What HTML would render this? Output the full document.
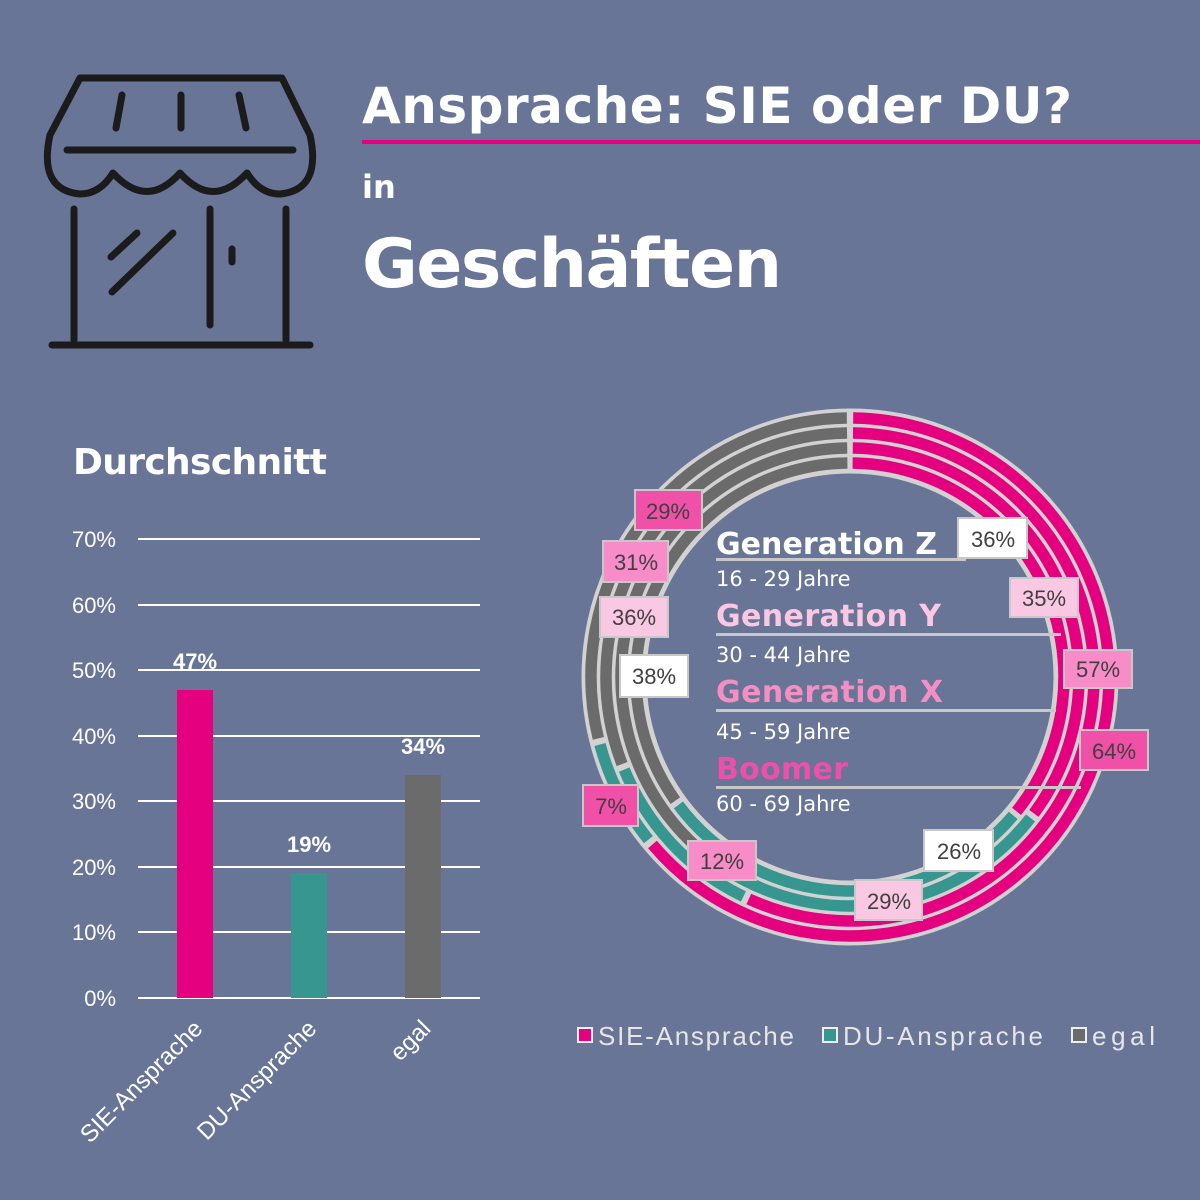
<!DOCTYPE html>
<html><head><meta charset="utf-8"><style>
body{margin:0;width:1200px;height:1200px;background:#687596;overflow:hidden;font-family:"Liberation Sans","DejaVu Sans",sans-serif}
svg{position:absolute;left:0;top:0}
</style></head><body>
<svg width="1200" height="1200" viewBox="0 0 1200 1200" xmlns="http://www.w3.org/2000/svg">
<g fill="none" stroke="#1b1b1b" stroke-width="7" stroke-linecap="round" stroke-linejoin="round">
<path d="M80,78 L282,78 L310,135 Q322,190 280,194 Q260,194 247,173 Q213,210 180,173 Q147,210 113,173 Q100,194 80,194 Q38,190 50,135 Z"/>
<line x1="67" y1="150" x2="293" y2="150"/>
<line x1="122" y1="95" x2="116" y2="128"/><line x1="181" y1="95" x2="181" y2="128"/><line x1="239" y1="95" x2="246" y2="128"/>
<line x1="74" y1="209" x2="74" y2="340"/><line x1="286" y1="209" x2="286" y2="340"/><line x1="210" y1="209" x2="210" y2="325"/>
<line x1="232" y1="249" x2="232" y2="262"/>
<line x1="111" y1="257" x2="137" y2="233"/><line x1="112" y1="292" x2="173" y2="233"/>
<line x1="52" y1="345" x2="310" y2="345"/>
</g>
<text x="362" y="123" font-family="DejaVu Sans" font-weight="bold" font-size="50" fill="#fff" textLength="710">Ansprache: SIE oder DU?</text>
<rect x="362" y="140" width="838" height="4" fill="#e4007f"/>
<text x="362" y="198" font-family="DejaVu Sans" font-weight="bold" font-size="32" fill="#fff">in</text>
<text x="362" y="287" font-family="DejaVu Sans" font-weight="bold" font-size="68" fill="#fff" textLength="420">Geschäften</text>
<text x="73" y="474" font-family="DejaVu Sans" font-weight="bold" font-size="36" fill="#fff" textLength="254">Durchschnitt</text>
<g stroke="#fff" stroke-width="2">
<line x1="138" y1="539" x2="480" y2="539"/><line x1="138" y1="605" x2="480" y2="605"/><line x1="138" y1="670" x2="480" y2="670"/><line x1="138" y1="736" x2="480" y2="736"/><line x1="138" y1="801" x2="480" y2="801"/><line x1="138" y1="867" x2="480" y2="867"/><line x1="138" y1="932" x2="480" y2="932"/><line x1="138" y1="998" x2="480" y2="998"/>
</g>
<g font-size="22" fill="#fff" text-anchor="end">
<text x="116" y="547">70%</text><text x="116" y="613">60%</text><text x="116" y="678">50%</text><text x="116" y="744">40%</text><text x="116" y="809">30%</text><text x="116" y="875">20%</text><text x="116" y="940">10%</text><text x="116" y="1006">0%</text>
</g>
<rect x="177" y="690" width="36" height="308" fill="#e4007f"/>
<rect x="291" y="873" width="36" height="125" fill="#379790"/>
<rect x="405" y="775" width="36" height="223" fill="#6b6b6b"/>
<g font-size="22" font-weight="bold" fill="#fff" text-anchor="middle">
<text x="195" y="669">47%</text><text x="309" y="852">19%</text><text x="423" y="754">34%</text>
</g>
<g font-size="24" fill="#fff" text-anchor="end">
<text transform="translate(204,1030) rotate(-45)">SIE-Ansprache</text>
<text transform="translate(318,1030) rotate(-45)">DU-Ansprache</text>
<text transform="translate(432,1030) rotate(-45)">egal</text>
</g>
<circle cx="850" cy="677" r="236" fill="none" stroke="#d2d2d2" stroke-width="65"/>
<g id="rings" fill="none" stroke-width="11.5"></g>
<g font-family="DejaVu Sans">
<text x="716" y="554" font-weight="bold" font-size="30" fill="#fff" textLength="221">Generation Z</text>
<rect x="716" y="558" width="250" height="3" fill="#c8c8c8"/>
<text x="716" y="586" font-size="21" fill="#fff">16 - 29 Jahre</text>
<text x="716" y="626" font-weight="bold" font-size="30" fill="#fbc8e4" textLength="225">Generation Y</text>
<rect x="716" y="633" width="345" height="3" fill="#c8c8c8"/>
<text x="716" y="662" font-size="21" fill="#fff">30 - 44 Jahre</text>
<text x="716" y="702" font-weight="bold" font-size="30" fill="#f48fc4" textLength="227">Generation X</text>
<rect x="716" y="709" width="340" height="3" fill="#c8c8c8"/>
<text x="716" y="739" font-size="21" fill="#fff">45 - 59 Jahre</text>
<text x="716" y="779" font-weight="bold" font-size="30" fill="#ee4fa9" textLength="132">Boomer</text>
<rect x="716" y="786" width="365" height="3" fill="#c8c8c8"/>
<text x="716" y="811" font-size="21" fill="#fff">60 - 69 Jahre</text>
</g>
<g stroke="#c8c8c8" stroke-width="2" font-size="22" fill="#404040" text-anchor="middle">
<rect x="635" y="490" width="67" height="40" fill="#f050a8"/><text x="668" y="519" stroke="none">29%</text>
<rect x="603" y="541" width="65" height="41" fill="#f78cc8"/><text x="636" y="570" stroke="none">31%</text>
<rect x="600" y="597" width="68" height="40" fill="#fbc8e4"/><text x="634" y="625" stroke="none">36%</text>
<rect x="620" y="655" width="68" height="42" fill="#fff"/><text x="654" y="684" stroke="none">38%</text>
<rect x="958" y="518" width="69" height="40" fill="#fff"/><text x="993" y="547" stroke="none">36%</text>
<rect x="1010" y="578" width="68" height="39" fill="#fbc8e4"/><text x="1044" y="606" stroke="none">35%</text>
<rect x="1064" y="650" width="68" height="38" fill="#f78cc8"/><text x="1098" y="677" stroke="none">57%</text>
<rect x="1080" y="730" width="68" height="40" fill="#f050a8"/><text x="1114" y="759" stroke="none">64%</text>
<rect x="583" y="785" width="55" height="41" fill="#f050a8"/><text x="611" y="814" stroke="none">7%</text>
<rect x="688" y="841" width="68" height="39" fill="#f78cc8"/><text x="722" y="869" stroke="none">12%</text>
<rect x="924" y="830" width="69" height="41" fill="#fff"/><text x="959" y="859" stroke="none">26%</text>
<rect x="855" y="880" width="67" height="40" fill="#fbc8e4"/><text x="889" y="909" stroke="none">29%</text>
</g>
<g font-size="26" fill="#e6e6e6">
<rect x="578" y="1028" width="14" height="14" fill="#e4007f" stroke="#eee" stroke-width="2"/><text x="598" y="1045" textLength="196">SIE-Ansprache</text>
<rect x="823" y="1028" width="14" height="14" fill="#379790" stroke="#eee" stroke-width="2"/><text x="843" y="1045" textLength="200">DU-Ansprache</text>
<rect x="1072" y="1028" width="14" height="14" fill="#6b6b6b" stroke="#eee" stroke-width="2"/><text x="1092" y="1045" textLength="63">egal</text>
</g>
</svg>
<script>
(function(){
var g=document.getElementById('rings'),cx=850,cy=677;
var data=[[259,[64,7,29]],[244,[57,12,31]],[229,[35,26,38]],[214,[36,29,35]]];
var cols=['#e4007f','#379790','#6b6b6b'];
function pt(r,a){a=(a-90)*Math.PI/180;return [cx+r*Math.cos(a),cy+r*Math.sin(a)];}
data.forEach(function(d){var r=d[0],s=0,tot=d[1].reduce(function(a,b){return a+b},0);
d[1].forEach(function(v,i){var a0=s/tot*360+0.7,a1=(s+v)/tot*360-0.7;s+=v;
var p0=pt(r,a0),p1=pt(r,a1),large=(a1-a0)>180?1:0;
var p=document.createElementNS('http://www.w3.org/2000/svg','path');
p.setAttribute('d','M'+p0[0]+','+p0[1]+' A'+r+','+r+' 0 '+large+' 1 '+p1[0]+','+p1[1]);
p.setAttribute('stroke',cols[i]);g.appendChild(p);});});
})();
</script>
</body></html>
